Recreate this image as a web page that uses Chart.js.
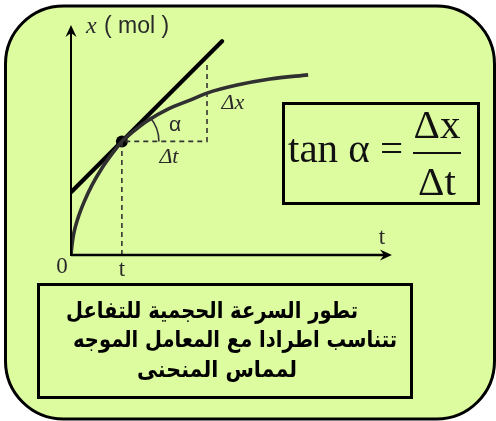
<!DOCTYPE html>
<html>
<head>
<meta charset="utf-8">
<script src="https://cdn.jsdelivr.net/npm/chart.js@4"></script>
<style>
  html, body { margin: 0; padding: 0; background: #fff; }
  #wrap { width: 496px; height: 421px; }
</style>
</head>
<body>
<div id="wrap"><canvas id="chart" width="496" height="421"></canvas></div>
<script>
// curve x(t) (t and x in grid units)
let curveT = [0, 0.03, 0.09, 0.22, 0.41, 0.66, 0.97, 1.28, 1.59, 1.97, 2.38, 3.03, 3.72, 4.25, 5.19, 6.22, 7.41];
let curveX = [0, 0.31, 0.69, 1.16, 1.66, 2.19, 2.72, 3.16, 3.55, 3.88, 4.19, 4.56, 4.84, 5.06, 5.31, 5.5, 5.63];

// tangent line at the point t
let tangentT = [0, 4.72];
let tangentX = [1.96, 6.68];
let touchT = 1.59;
let touchX = 3.55;

// right triangle (dashed) : end of delta t, top of delta x
let deltaEndT = 4.25;
let deltaTopX = 6.03;

// axis ends
let axisEndT = 10.03;
let axisEndX = 7.19;

// text labels
let labelTexts = ['0', 't', 't', '\u03b1', '\u0394t', '\u0394x'];
let labelT = [-0.28, 1.59, 9.72, 3.25, 3.06, 5.06];
let labelX = [-0.37, -0.47, 0.53, 4.06, 3.06, 4.75];

let formulaLeft = 'tan \u03b1 =';
let formulaTop = '\u0394x';
let formulaBottom = '\u0394t';

let noteLines = [
    'تطور السرعة الحجمية للتفاعل',
    'تتناسب اطرادا مع المعامل الموجه',
    'لمماس المنحنى'
];

function toPoints(xs, ys) {
    return xs.map((v, i) => ({x: v, y: ys[i]}));
}

// dashed lines : vertical from t axis, horizontal delta t, vertical delta x
let dashedPoints = [
    {x: touchT, y: 0}, {x: touchT, y: touchX}, {x: deltaEndT, y: touchX}, {x: deltaEndT, y: deltaTopX}
];

function arrowHead(ctx, x, y, dir) {
    // dir : 'up' or 'right'
    ctx.save();
    ctx.translate(x, y);
    if (dir === 'up') ctx.rotate(-Math.PI / 2);
    ctx.beginPath();
    ctx.moveTo(0, 0);
    ctx.lineTo(-12, -5.5);
    ctx.lineTo(-8, 0);
    ctx.lineTo(-12, 5.5);
    ctx.closePath();
    ctx.fillStyle = '#000';
    ctx.fill();
    ctx.restore();
}

function roundRect(ctx, x, y, w, h, r) {
    ctx.beginPath();
    ctx.moveTo(x + r, y);
    ctx.arcTo(x + w, y, x + w, y + h, r);
    ctx.arcTo(x + w, y + h, x, y + h, r);
    ctx.arcTo(x, y + h, x, y, r);
    ctx.arcTo(x, y, x + w, y, r);
    ctx.closePath();
}

let backgroundPlugin = {
    id: 'backgroundPanel',
    beforeDraw(chart) {
        let ctx = chart.ctx;
        ctx.save();
        ctx.fillStyle = '#fff';
        ctx.fillRect(0, 0, chart.width, chart.height);
        roundRect(ctx, 5.5, 6, 489, 413, 58);
        ctx.fillStyle = '#ddfca0';
        ctx.fill();
        ctx.lineWidth = 3;
        ctx.strokeStyle = '#000';
        ctx.stroke();
        ctx.restore();
    }
};

let annotationPlugin = {
    id: 'annotations',
    afterDatasetsDraw(chart) {
        let ctx = chart.ctx;
        let sx = chart.scales.x;
        let sy = chart.scales.y;
        let x0 = sx.getPixelForValue(0);
        let y0 = sy.getPixelForValue(0);
        ctx.save();

        // axes
        ctx.strokeStyle = '#000';
        ctx.lineWidth = 2.5;
        ctx.beginPath();
        ctx.moveTo(x0, y0);
        ctx.lineTo(sx.getPixelForValue(axisEndT) - 6, y0);
        ctx.stroke();
        ctx.lineWidth = 2;
        ctx.beginPath();
        ctx.moveTo(x0, y0 + 1);
        ctx.lineTo(x0, sy.getPixelForValue(axisEndX) + 6);
        ctx.stroke();
        arrowHead(ctx, sx.getPixelForValue(axisEndT), y0, 'right');
        arrowHead(ctx, x0, sy.getPixelForValue(axisEndX), 'up');

        // angle arc
        let cx = sx.getPixelForValue(touchT);
        let cy = sy.getPixelForValue(touchX);
        ctx.lineWidth = 1.6;
        ctx.strokeStyle = '#333';
        ctx.beginPath();
        ctx.arc(cx, cy, 37, -0.72, 0);
        ctx.stroke();

        // axis title
        ctx.fillStyle = '#2a2a2a';
        ctx.textBaseline = 'middle';
        ctx.textAlign = 'left';
        ctx.font = 'italic 24px "Liberation Serif"';
        ctx.fillText('x', 86, 27);
        ctx.font = '23px "Liberation Sans"';
        ctx.fillText('( mol )', 104, 27);

        // labels
        ctx.textAlign = 'center';
        labelTexts.forEach((txt, i) => {
            let italic = txt.indexOf('\u0394') === 0;
            if (txt === '\u03b1') ctx.font = '21px "Liberation Sans"';
            else if (italic) ctx.font = 'italic 22px "Liberation Serif"';
            else ctx.font = '23px "Liberation Serif"';
            ctx.fillText(txt, sx.getPixelForValue(labelT[i]), sy.getPixelForValue(labelX[i]));
        });

        // formula box
        ctx.lineWidth = 3;
        ctx.strokeStyle = '#000';
        ctx.strokeRect(283.5, 103.5, 195, 100);
        ctx.fillStyle = '#111';
        ctx.textBaseline = 'alphabetic';
        ctx.textAlign = 'left';
        ctx.font = '41px "Liberation Serif"';
        ctx.fillText(formulaLeft, 288, 162);
        ctx.textAlign = 'center';
        ctx.fillText(formulaTop, 437, 138);
        ctx.fillText(formulaBottom, 437, 195);
        ctx.fillRect(413, 152, 48, 2);

        // note box
        ctx.strokeRect(38.5, 284.5, 373, 113);
        ctx.fillStyle = '#000';
        ctx.font = 'bold 23px "DejaVu Sans"';
        ctx.direction = 'rtl';
        let centers = [212, 235, 217];
        let widths = [292, 324, 160];
        let bases = [318, 347, 377];
        noteLines.forEach((line, i) => {
            let w = ctx.measureText(line).width;
            ctx.save();
            ctx.translate(centers[i], bases[i]);
            ctx.scale(widths[i] / w, 1);
            ctx.fillText(line, 0, 0);
            ctx.restore();
        });
        ctx.restore();
    }
};

new Chart(document.getElementById('chart').getContext('2d'), {
    type: 'scatter',
    data: {
        datasets: [
            {
                label: 'dashed',
                data: dashedPoints,
                showLine: true,
                borderColor: '#333',
                borderWidth: 1.6,
                borderDash: [5, 4],
                pointRadius: 0
            },
            {
                label: 'x(t)',
                data: toPoints(curveT, curveX),
                showLine: true,
                borderColor: '#303030',
                borderWidth: 3.6,
                cubicInterpolationMode: 'monotone',
                pointRadius: 0
            },
            {
                label: 'tangent',
                data: toPoints(tangentT, tangentX),
                showLine: true,
                borderColor: '#000',
                borderWidth: 4.2,
                borderCapStyle: 'round',
                pointRadius: 0
            },
            {
                label: 'point',
                data: [{x: touchT, y: touchX}],
                pointRadius: 6,
                pointBackgroundColor: '#000',
                pointBorderWidth: 0
            }
        ]
    },
    options: {
        responsive: false,
        animation: false,
        events: [],
        layout: {
            padding: {left: 71, top: 31, right: 105, bottom: 166}
        },
        scales: {
            x: {type: 'linear', min: 0, max: 10, display: false},
            y: {type: 'linear', min: 0, max: 7, display: false}
        },
        plugins: {
            legend: {display: false},
            tooltip: {enabled: false}
        }
    },
    plugins: [backgroundPlugin, annotationPlugin]
});
</script>
</body>
</html>
